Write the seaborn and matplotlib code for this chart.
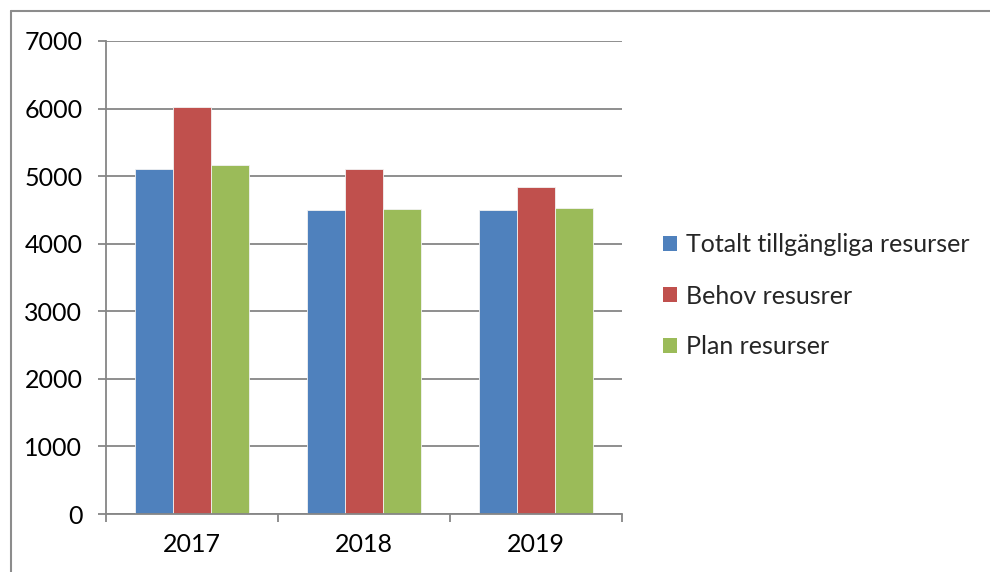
import matplotlib
matplotlib.use("Agg")
import matplotlib.pyplot as plt
import matplotlib.patches as mpatches
import matplotlib.lines as mlines
import numpy as np
import pandas as pd
import seaborn as sns

years = ["2017", "2018", "2019"]
series = ["Totalt tillgängliga resurser", "Behov resusrer", "Plan resurser"]
tillgangliga = [5100, 4500, 4500]
behov = [6030, 5100, 4840]
plan = [5160, 4520, 4530]
colors = ["#4F81BD", "#C0504D", "#9BBB59"]
y_ticks = [0, 1000, 2000, 3000, 4000, 5000, 6000, 7000]

df = pd.DataFrame({
    "year": years * 3,
    "series": [series[0]] * 3 + [series[1]] * 3 + [series[2]] * 3,
    "value": tillgangliga + behov + plan,
})

sns.set_theme(style="white")
plt.rcParams["font.family"] = ["Lato", "DejaVu Sans"]

fig = plt.figure(figsize=(9.9, 5.72), dpi=100)
ax = fig.add_axes([106 / 990, 1 - 514 / 572, (622 - 106) / 990, (514 - 41) / 572])

sns.barplot(data=df, x="year", y="value", hue="series", palette=colors,
            width=0.663, ax=ax, edgecolor="#f2f2f2", linewidth=0.6, saturation=1)

ax.set_xlim(-0.5, 2.5)
ax.set_ylim(0, 7000)
ax.set_yticks(y_ticks)
ax.yaxis.grid(True, color="#868686", linewidth=1.3)
ax.set_axisbelow(True)
ax.set_xlabel("")
ax.set_ylabel("")

for side in ["top", "right"]:
    ax.spines[side].set_visible(False)
ax.spines["left"].set_color("#868686")
ax.spines["bottom"].set_color("#868686")
ax.spines["left"].set_linewidth(1.3)
ax.spines["bottom"].set_linewidth(1.3)

ax.tick_params(axis="y", which="major", left=True, length=6, width=1.3,
               color="#868686", pad=11, labelsize=18, labelcolor="black")
ax.set_xticks([-0.5, 0.5, 1.5, 2.5], minor=True)
ax.tick_params(axis="x", which="minor", bottom=True, length=6, width=1.3,
               color="#868686", direction="out")
ax.tick_params(axis="x", which="major", length=0, pad=14, labelsize=18,
               labelcolor="black")

handles = [mpatches.Patch(facecolor=c, edgecolor="none") for c in colors]
ax.legend(handles, series, loc="center left",
          bbox_to_anchor=(663 / 990, 1 - 296 / 572), bbox_transform=fig.transFigure,
          frameon=False, fontsize=18, handlelength=0.55, handleheight=0.55,
          handletextpad=0.35, labelspacing=1.12, borderaxespad=0, borderpad=0)

# outer frame: only left and top edges are visible in the picture
fx = 11 / 990
fy = 1 - 11 / 572
fig.lines.append(mlines.Line2D([fx, fx], [0, fy], transform=fig.transFigure,
                               color="#8c8c8c", linewidth=1.5))
fig.lines.append(mlines.Line2D([fx, 1], [fy, fy], transform=fig.transFigure,
                               color="#8c8c8c", linewidth=1.5))

fig.savefig("out.png", dpi=100)
